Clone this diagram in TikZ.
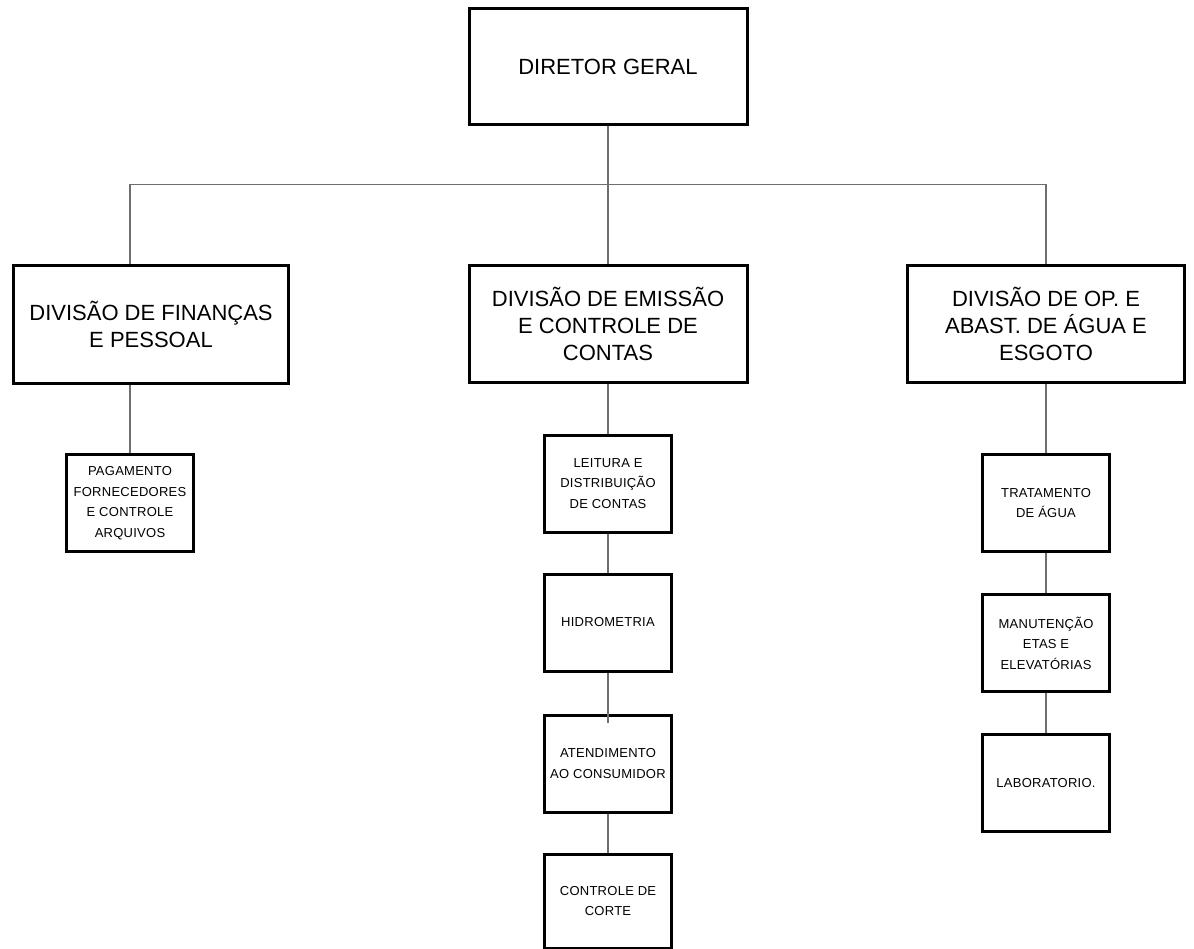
\documentclass[tikz,border=0pt]{standalone}
\usepackage{fontspec}
\setmainfont{Liberation Sans}
\newfontfamily\childfont[LetterSpace=2]{Liberation Sans}
\usetikzlibrary{positioning}
\definecolor{linkgray}{RGB}{110,110,110}
\tikzset{
  headbox/.style={draw, line width=3pt, align=center, inner sep=0pt, font=\fontsize{22}{27}\selectfont},
  unitbox/.style={draw, line width=3pt, align=center, inner sep=0pt, minimum width=127pt, minimum height=97pt, font=\childfont\fontsize{13}{20.5}\selectfont},
  link/.style={draw=linkgray, line width=1.2pt}
}
\begin{document}
\begin{tikzpicture}[x=1pt,y=-1pt]
  \useasboundingbox (0,0) rectangle (1194,949);
  % direcao e divisoes
  \node[headbox, minimum width=278pt, minimum height=116pt] (dir) at (608,66.5) {DIRETOR GERAL};
  \node[headbox, minimum width=275pt, minimum height=118pt] (fin) at (151,324.5) {DIVIS\~AO DE FINAN\c{C}AS\\E PESSOAL};
  \node[headbox, minimum width=278pt, minimum height=117pt] (emi) at (608,324) {DIVIS\~AO DE EMISS\~AO\\E CONTROLE DE\\CONTAS};
  \node[headbox, minimum width=277pt, minimum height=117pt] (agua) at (1046,324) {DIVIS\~AO DE OP. E\\ABAST. DE \'AGUA E\\ESGOTO};
  % setores
  \node[unitbox] (pag) at (130,503) {PAGAMENTO\\FORNECEDORES\\E CONTROLE\\ARQUIVOS};
  \node[unitbox] (leit) at (608,483.5) {LEITURA E\\DISTRIBUI\c{C}\~AO\\DE CONTAS};
  \node[unitbox, below=39pt of leit] (hidro) {HIDROMETRIA};
  \node[unitbox, below=41pt of hidro] (atend) {ATENDIMENTO\\AO CONSUMIDOR};
  \node[unitbox, below=39pt of atend, minimum height=94pt] (corte) {CONTROLE DE\\CORTE};
  \node[unitbox] (trat) at (1046,503) {TRATAMENTO\\DE \'AGUA};
  \node[unitbox, below=40pt of trat] (manut) {MANUTEN\c{C}\~AO\\ETAS E\\ELEVAT\'ORIAS};
  \node[unitbox, below=40pt of manut] (lab) {LABORATORIO.};
  % ligacoes
  \coordinate (busl) at (130,184.5); \coordinate (busr) at (1046,184.5);
  \draw[link] (dir.south) -- (dir.south |- busl) -- (emi.north);
  \draw[link] (fin.north -| pag.north) -- (busl) -- (busr) -- (agua.north);
  \draw[link] (fin.south -| pag.north) -- (pag.north);
  \draw[link] (emi.south) -- (leit.north);
  \draw[link] (leit.south) -- (hidro.north);
  \draw[link] (hidro.south) -- ([yshift=-9pt]atend.north);
  \draw[link] (atend.south) -- (corte.north);
  \draw[link] (agua.south) -- (trat.north);
  \draw[link] (trat.south) -- (manut.north);
  \draw[link] (manut.south) -- (lab.north);
\end{tikzpicture}
\end{document}
